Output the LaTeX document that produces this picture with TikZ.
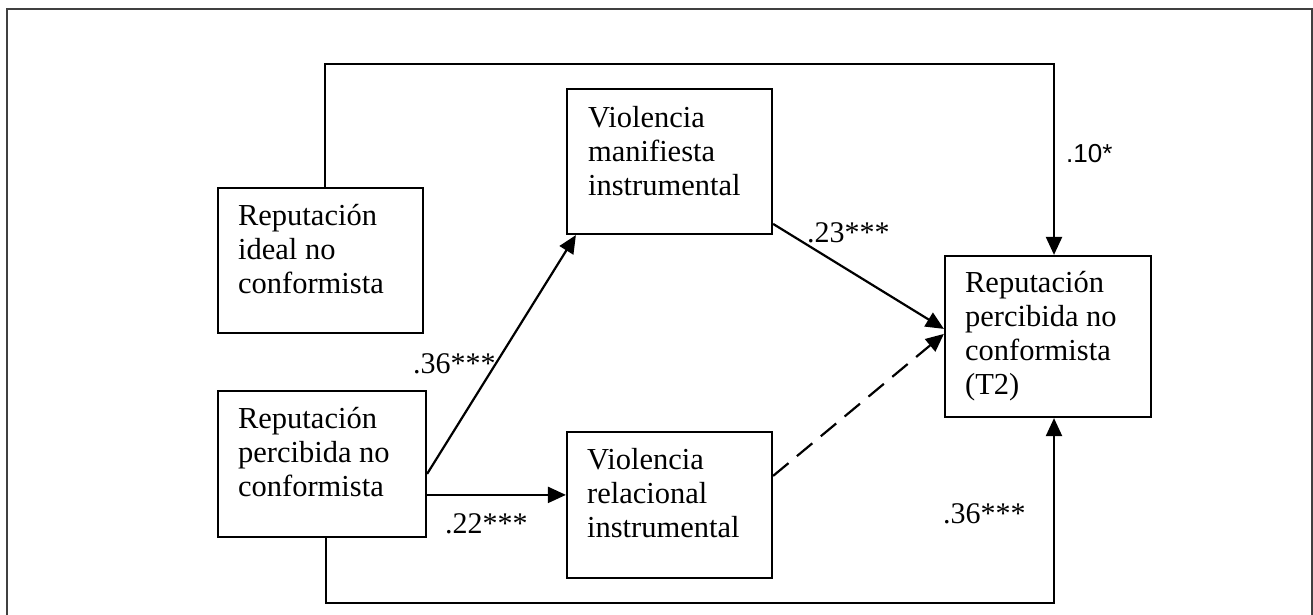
\documentclass[tikz,border=0pt]{standalone}
\usepackage{fontspec}
\setmainfont{Liberation Serif}
\newfontfamily\labelfont{Liberation Sans}
\usetikzlibrary{arrows.meta,calc}
\begin{document}
\begin{tikzpicture}[x=1pt,y=-1pt,
  box/.style={draw, line width=2.2pt, inner sep=0pt},
  txt/.style={align=left, inner sep=0pt, anchor=base west, font=\fontsize{30.5}{34}\selectfont},
  lbl/.style={inner sep=0pt, anchor=base west, font=\fontsize{30}{32}\selectfont},
  conn/.style={line width=2.2pt, -{Triangle[length=18pt,width=16pt]}},
  frame/.style={line width=1.5pt, black!75}]
\useasboundingbox (0,0) rectangle (1313,614);
\draw[frame] (7,650) -- (7,9) -- (1312,9) -- (1312,650);

% boxes
\node[box, minimum width=205pt, minimum height=145pt] (ideal) at (320.5,260.5) {};
\node[box, minimum width=208pt, minimum height=146pt] (perc) at (322,464) {};
\node[box, minimum width=205pt, minimum height=145pt] (manif) at (669.5,161.5) {};
\node[box, minimum width=205pt, minimum height=146pt] (rel) at (669.5,505) {};
\node[box, minimum width=206pt, minimum height=161pt] (t2) at (1048,336.5) {};

% texts (base anchor = baseline of the last line)
\node[txt] (idealt) at ($(ideal.north west)+(21,107)$) {Reputación\\ideal no\\conformista};
\node[txt] (perct) at ($(perc.north west)+(21,107)$) {Reputación\\percibida no\\conformista};
\node[txt] (manift) at ($(manif.north west)+(22,108)$) {Violencia\\manifiesta\\instrumental};
\node[txt] (relt) at ($(rel.north west)+(21,107)$) {Violencia\\relacional\\instrumental};
\node[txt] (t2t) at ($(t2.north west)+(21,140)$) {Reputación\\percibida no\\conformista\\(T2)};

% route coordinates
\coordinate (topL) at (325,64);
\coordinate (topR) at (1054,64);
\coordinate (botL) at (326,603);
\coordinate (botR) at (1054,603);

% connectors
\draw[conn] (ideal.north -| topL) -- (topL) -- (topR) -- (t2.north -| topR);
\draw[conn] (perc.south -| botL) -- (botL) -- (botR) -- (t2.south -| botR);
\draw[conn] ($(perc.north east)+(0,84)$) -- ($(manif.south west)+(10,0)$);
\draw[conn] ($(perc.north east)+(0,105)$) -- ($(rel.north west)+(0,64)$);
\draw[conn] ($(manif.north east)+(0,136)$) -- ($(t2.north west)+(0,74)$);
\draw[conn, dash pattern=on 20pt off 11pt] ($(rel.north east)+(0,45)$) -- ($(t2.north west)+(0,79)$);

% labels
\node[lbl, font=\labelfont\fontsize{26}{30}\selectfont] (l10) at (1066,162) {.10*};
\node[lbl] (l23) at (807,242) {.23***};
\node[lbl] (l36a) at (413,373) {.36***};
\node[lbl] (l22) at (445,533) {.22***};
\node[lbl] (l36b) at (943,523) {.36***};
\end{tikzpicture}
\end{document}
